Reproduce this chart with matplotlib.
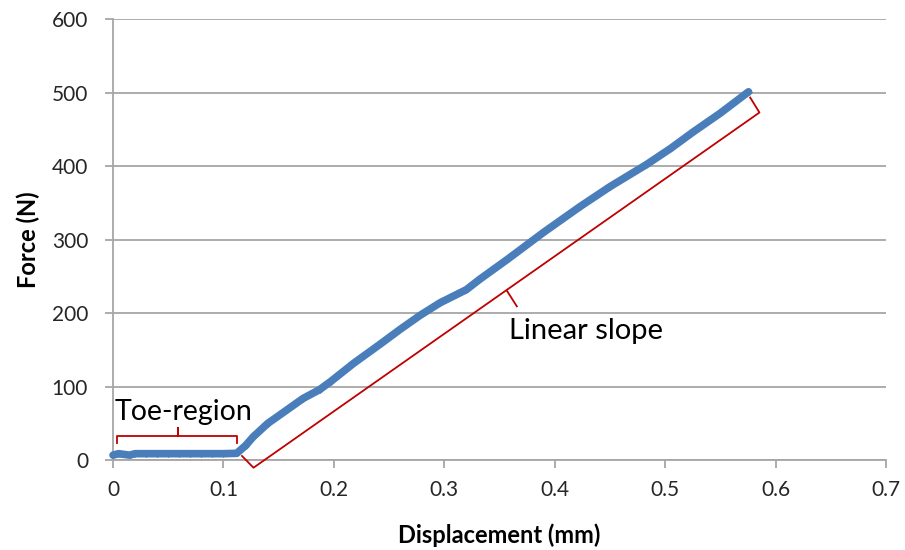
import matplotlib
matplotlib.use("Agg")
import matplotlib.pyplot as plt

plt.rcParams['font.family'] = ['Lato', 'DejaVu Sans']

# Data
displacement = [0.0, 0.005, 0.01, 0.015, 0.02, 0.03, 0.04, 0.05, 0.06, 0.07, 0.08,
                0.09, 0.10, 0.112, 0.12, 0.127, 0.14, 0.157, 0.172, 0.187, 0.197,
                0.218, 0.242, 0.26, 0.278, 0.296, 0.32, 0.332, 0.357, 0.39, 0.423,
                0.45, 0.483, 0.505, 0.525, 0.55, 0.5755]
force = [7, 9, 8, 7, 9, 9, 9, 9, 9, 9, 9,
         9, 9, 9.5, 20, 32, 50, 68, 84, 96, 107,
         132, 158, 178, 197, 214, 232, 246, 273, 310, 345,
         372, 402, 424, 446, 472, 501]

x_ticks = [0, 0.1, 0.2, 0.3, 0.4, 0.5, 0.6, 0.7]
x_tick_labels = ['0', '0.1', '0.2', '0.3', '0.4', '0.5', '0.6', '0.7']
y_ticks = [0, 100, 200, 300, 400, 500, 600]

# Annotation brackets (data coordinates)
toe_bx = [0.0034, 0.0034, 0.059, 0.059, 0.059, 0.112, 0.112]
toe_by = [23, 33, 33, 43.5, 33, 33, 23]
lin_bx = [0.1168, 0.1272, 0.5854, 0.577]
lin_by = [5.9, -10.1, 472.8, 493.2]
lin_tick_x = [0.3566, 0.3657]
lin_tick_y = [230.7, 209.3]

fig = plt.figure(figsize=(9.05, 5.5), dpi=100)
ax = fig.add_axes([0.1249, 0.1631, 0.979 - 0.1249, 0.9655 - 0.1631])

grid_c = '#A6A6A6'
ax.set_xlim(0, 0.7)
ax.set_ylim(0, 600)
ax.set_yticks(y_ticks)
ax.set_xticks(x_ticks)
ax.set_xticklabels(x_tick_labels)
ax.yaxis.grid(True, color=grid_c, linewidth=1.3)
ax.set_axisbelow(True)
for s in ['top', 'right']:
    ax.spines[s].set_visible(False)
for s in ['left', 'bottom']:
    ax.spines[s].set_color(grid_c)
    ax.spines[s].set_linewidth(1.3)
ax.tick_params(axis='both', colors=grid_c, length=6, width=1.3, labelcolor='#262626',
               labelsize=15)
ax.tick_params(axis='y', pad=12)
ax.tick_params(axis='x', pad=8)

ax.plot(displacement, force, color='#4A7EBB', linewidth=5.5, marker='D',
        markersize=3.5, markeredgewidth=0, solid_capstyle='round',
        solid_joinstyle='round', clip_on=False, zorder=3)

red = '#C00000'
ax.plot(toe_bx, toe_by, color=red, linewidth=1.3, clip_on=False, zorder=4)
ax.plot(lin_bx, lin_by, color=red, linewidth=1.3, clip_on=False, zorder=4)
ax.plot(lin_tick_x, lin_tick_y, color=red, linewidth=1.3, clip_on=False, zorder=4)

ax.text(0.0015, 65, 'Toe-region', fontsize=20.5, color='black', va='center', ha='left')
ax.text(0.359, 176, 'Linear slope', fontsize=21, color='black', va='center', ha='left')

ax.set_xlabel('Displacement (mm)', fontsize=17, fontweight='bold', labelpad=17)
ax.set_ylabel('Force (N)', fontsize=17, fontweight='bold', labelpad=8)

fig.savefig('out.png', dpi=100)
